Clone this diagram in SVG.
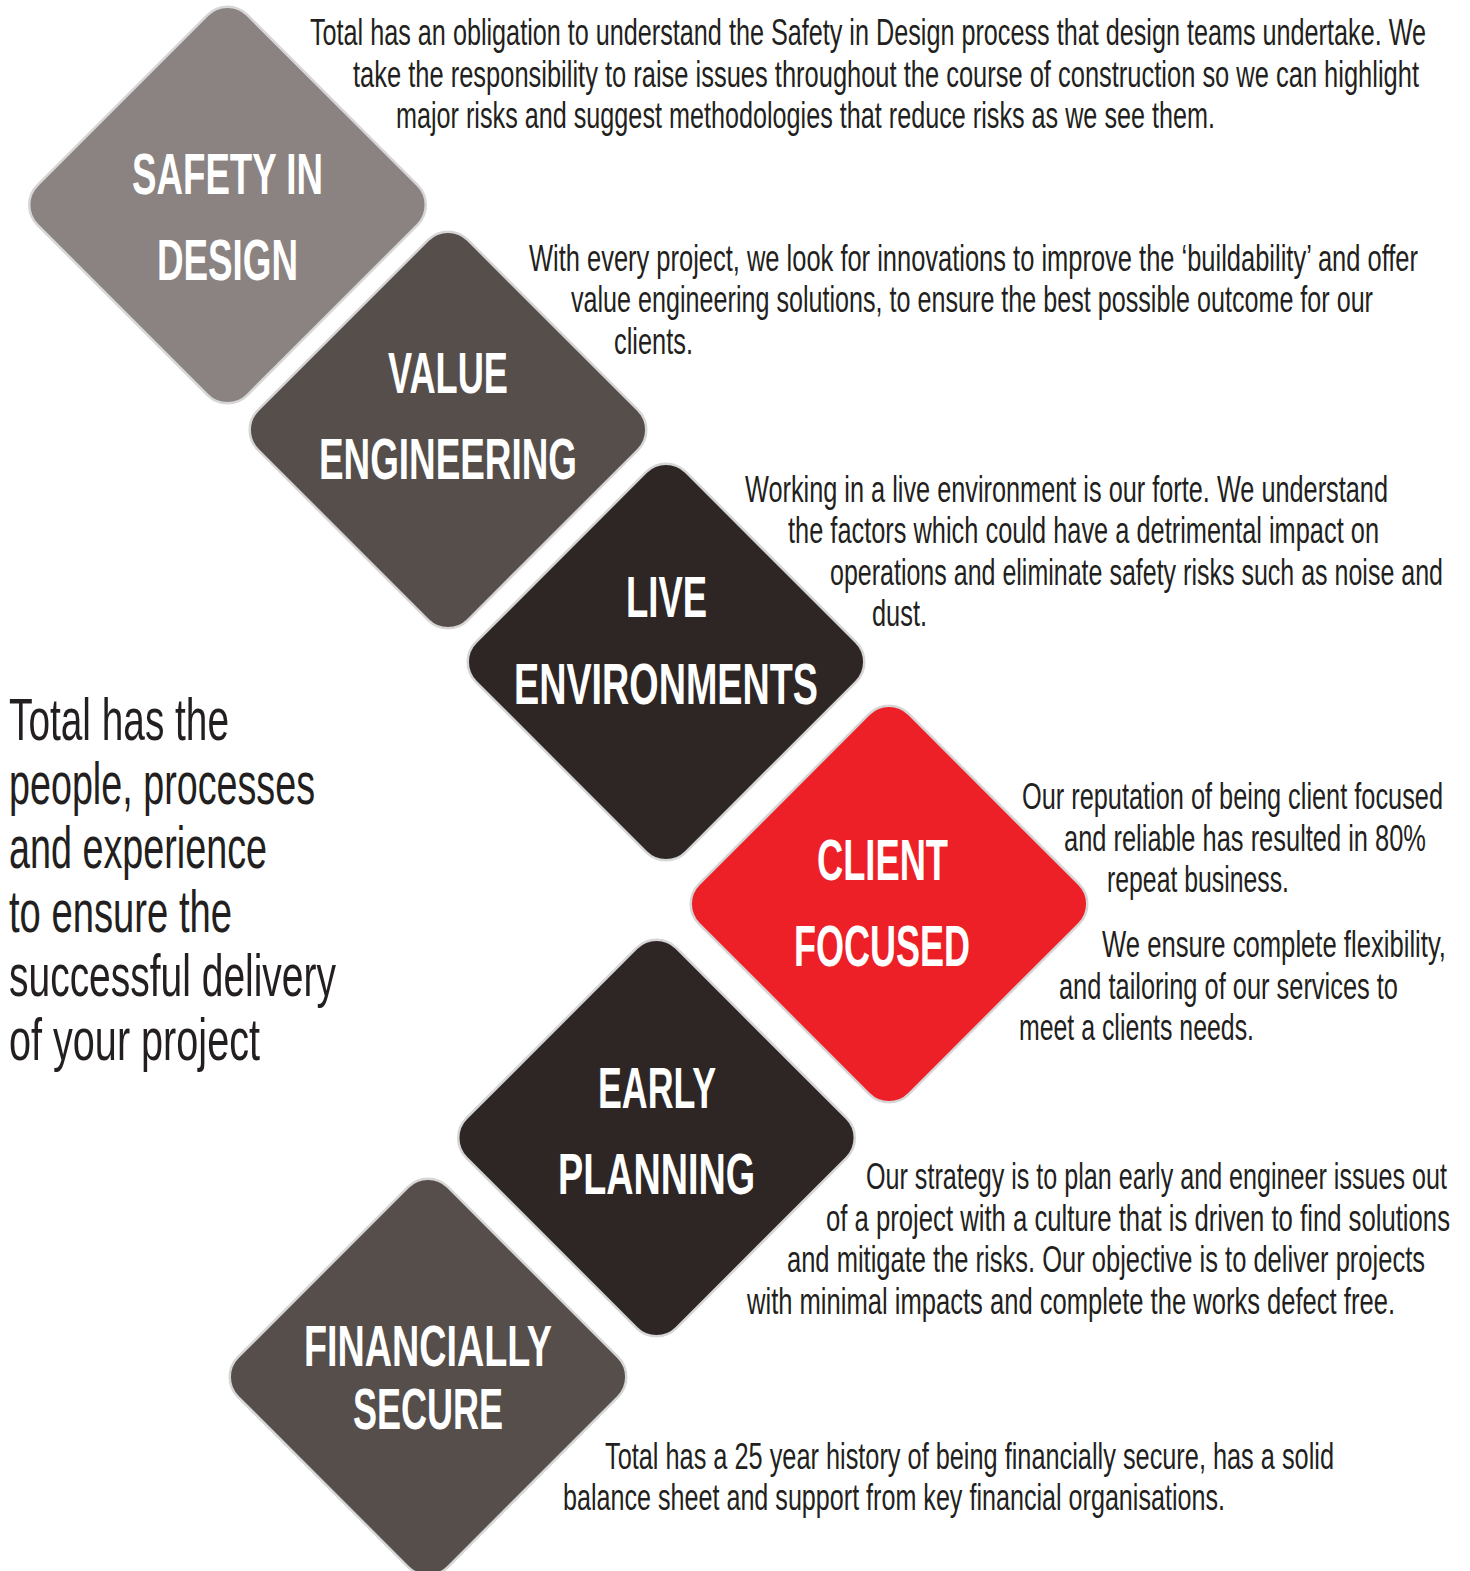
<svg xmlns="http://www.w3.org/2000/svg" width="1470" height="1571" viewBox="0 0 1470 1571">
<defs>
<style>
.d{stroke:#d6d6d6;stroke-width:2.5}
.c1{fill:#8b8381}.c2{fill:#554e4b}.c3{fill:#2e2625}.c4{fill:#ed1f27}
.lbl{font-family:"Liberation Sans",Arial,sans-serif;font-weight:bold;font-size:57px;fill:#ffffff}
.body{font-family:"Liberation Sans",Arial,sans-serif;font-size:22px;fill:#231f20}
.big{font-family:"Liberation Sans",Arial,sans-serif;font-size:36px;fill:#231f20}
</style>
<rect id="dia" x="-148.4" y="-148.4" width="296.8" height="296.8" rx="28" ry="28" transform="rotate(45)"/>
</defs>
<rect width="1470" height="1571" fill="#ffffff"/>
<g id="connectors"></g>

<g id="safety-in-design">
<use href="#dia" class="d c1" transform="translate(227.5,205)"/>
<text class="lbl" x="132" y="194" textLength="191" lengthAdjust="spacingAndGlyphs">SAFETY IN</text>
<text class="lbl" x="157" y="280" textLength="141" lengthAdjust="spacingAndGlyphs">DESIGN</text>
</g>
<g id="value-engineering">
<use href="#dia" class="d c2" transform="translate(448,430)"/>
<text class="lbl" x="388" y="393" textLength="120" lengthAdjust="spacingAndGlyphs">VALUE</text>
<text class="lbl" x="319" y="479" textLength="258" lengthAdjust="spacingAndGlyphs">ENGINEERING</text>
</g>
<g id="live-environments">
<use href="#dia" class="d c3" transform="translate(666,662)"/>
<text class="lbl" x="626" y="617" textLength="81" lengthAdjust="spacingAndGlyphs">LIVE</text>
<text class="lbl" x="514" y="704" textLength="304" lengthAdjust="spacingAndGlyphs">ENVIRONMENTS</text>
</g>
<g id="client-focused">
<use href="#dia" class="d c4" transform="translate(889,904)"/>
<text class="lbl" x="817" y="880" textLength="131" lengthAdjust="spacingAndGlyphs">CLIENT</text>
<text class="lbl" x="794" y="966" textLength="176" lengthAdjust="spacingAndGlyphs">FOCUSED</text>
</g>
<g id="early-planning">
<use href="#dia" class="d c3" transform="translate(656.5,1138)"/>
<text class="lbl" x="598" y="1108" textLength="118" lengthAdjust="spacingAndGlyphs">EARLY</text>
<text class="lbl" x="558" y="1194" textLength="197" lengthAdjust="spacingAndGlyphs">PLANNING</text>
</g>
<g id="financially-secure">
<use href="#dia" class="d c2" transform="translate(428,1377)"/>
<text class="lbl" x="304" y="1366" textLength="248" lengthAdjust="spacingAndGlyphs">FINANCIALLY</text>
<text class="lbl" x="353" y="1429" textLength="150" lengthAdjust="spacingAndGlyphs">SECURE</text>
</g>

<g id="text-safety" transform="scale(1,1.70455)">
<text class="body" x="310" y="26.40" textLength="1116" lengthAdjust="spacingAndGlyphs">Total has an obligation to understand the Safety in Design process that design teams undertake. We</text>
<text class="body" x="353" y="51.04" textLength="1066" lengthAdjust="spacingAndGlyphs">take the responsibility to raise issues throughout the course of construction so we can highlight</text>
<text class="body" x="396" y="75.09" textLength="819" lengthAdjust="spacingAndGlyphs">major risks and suggest methodologies that reduce risks as we see them.</text>
</g>
<g id="text-value" transform="scale(1,1.70455)">
<text class="body" x="529" y="158.99" textLength="889" lengthAdjust="spacingAndGlyphs">With every project, we look for innovations to improve the ‘buildability’ and offer</text>
<text class="body" x="571" y="183.04" textLength="802" lengthAdjust="spacingAndGlyphs">value engineering solutions, to ensure the best possible outcome for our</text>
<text class="body" x="614" y="207.68" textLength="79" lengthAdjust="spacingAndGlyphs">clients.</text>
</g>
<g id="text-live" transform="scale(1,1.70455)">
<text class="body" x="745" y="294.51" textLength="643" lengthAdjust="spacingAndGlyphs">Working in a live environment is our forte. We understand</text>
<text class="body" x="788" y="318.56" textLength="591" lengthAdjust="spacingAndGlyphs">the factors which could have a detrimental impact on</text>
<text class="body" x="830" y="343.20" textLength="613" lengthAdjust="spacingAndGlyphs">operations and eliminate safety risks such as noise and</text>
<text class="body" x="872" y="367.25" textLength="55" lengthAdjust="spacingAndGlyphs">dust.</text>
</g>
<g id="text-client" transform="scale(1,1.70455)">
<text class="body" x="1022" y="474.61" textLength="421" lengthAdjust="spacingAndGlyphs">Our reputation of being client focused</text>
<text class="body" x="1064" y="499.25" textLength="362" lengthAdjust="spacingAndGlyphs">and reliable has resulted in 80%</text>
<text class="body" x="1107" y="523.31" textLength="182" lengthAdjust="spacingAndGlyphs">repeat business.</text>
<text class="body" x="1102" y="561.44" textLength="344" lengthAdjust="spacingAndGlyphs">We ensure complete flexibility,</text>
<text class="body" x="1059" y="586.08" textLength="339" lengthAdjust="spacingAndGlyphs">and tailoring of our services to</text>
<text class="body" x="1019" y="610.13" textLength="235" lengthAdjust="spacingAndGlyphs">meet a clients needs.</text>
</g>
<g id="text-early" transform="scale(1,1.70455)">
<text class="body" x="866" y="697.55" textLength="581" lengthAdjust="spacingAndGlyphs">Our strategy is to plan early and engineer issues out</text>
<text class="body" x="826" y="722.19" textLength="624" lengthAdjust="spacingAndGlyphs">of a project with a culture that is driven to find solutions</text>
<text class="body" x="787" y="746.24" textLength="638" lengthAdjust="spacingAndGlyphs">and mitigate the risks. Our objective is to deliver projects</text>
<text class="body" x="747" y="770.88" textLength="648" lengthAdjust="spacingAndGlyphs">with minimal impacts and complete the works defect free.</text>
</g>
<g id="text-financial" transform="scale(1,1.70455)">
<text class="body" x="605" y="861.81" textLength="729" lengthAdjust="spacingAndGlyphs">Total has a 25 year history of being financially secure, has a solid</text>
<text class="body" x="563" y="885.87" textLength="662" lengthAdjust="spacingAndGlyphs">balance sheet and support from key financial organisations.</text>
</g>
<g id="text-summary" transform="scale(1,1.66667)">
<text class="big" x="9" y="444" textLength="220" lengthAdjust="spacingAndGlyphs">Total has the</text>
<text class="big" x="9" y="482.4" textLength="306" lengthAdjust="spacingAndGlyphs">people, processes</text>
<text class="big" x="9" y="520.8" textLength="258" lengthAdjust="spacingAndGlyphs">and experience</text>
<text class="big" x="9" y="559.2" textLength="223" lengthAdjust="spacingAndGlyphs">to ensure the</text>
<text class="big" x="9" y="597.6" textLength="327" lengthAdjust="spacingAndGlyphs">successful delivery</text>
<text class="big" x="9" y="636" textLength="251" lengthAdjust="spacingAndGlyphs">of your project</text>
</g>
</svg>
